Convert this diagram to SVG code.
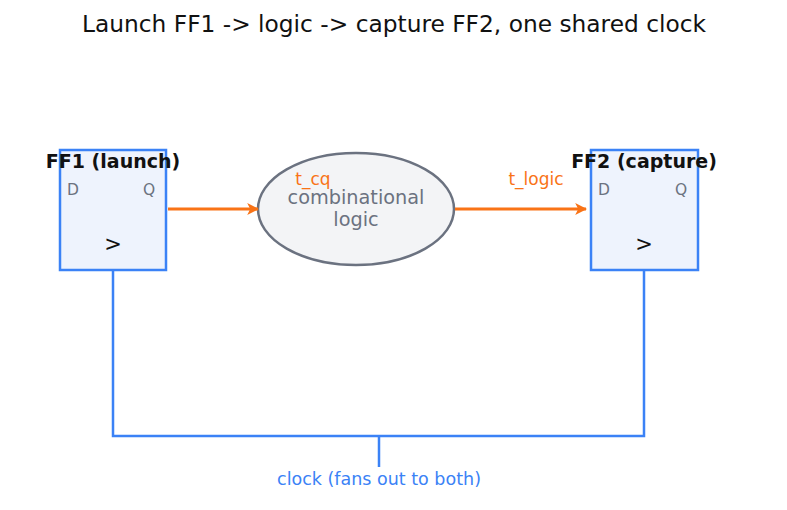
<svg xmlns="http://www.w3.org/2000/svg" width="787" height="510" viewBox="0 0 787 510">
<defs>
<style>
text{font-family:"DejaVu Sans","Liberation Sans",sans-serif}
.ff{fill:#eef3fd;stroke:#3b82f6;stroke-width:2.5}
.lbl{font-size:19px;font-weight:bold;fill:#111;text-anchor:middle}
.pin{font-size:15.5px;fill:#6b7280}
.clk{font-size:21px;fill:#111;text-anchor:middle}
.wire{fill:none;stroke:#3b82f6;stroke-width:2.5}
.data{fill:none;stroke:#f97316;stroke-width:3}
.otxt{font-size:17px;fill:#f97316;text-anchor:middle}
</style>
<marker id="ah" viewBox="0 0 10 10" refX="9" refY="5" markerWidth="4" markerHeight="4" orient="auto" markerUnits="strokeWidth">
<path d="M0,0 L10,5 L0,10 L2.5,5 z" fill="#f97316"/>
</marker>
</defs>
<rect width="787" height="510" fill="#fff"/>
<text x="394" y="32" font-size="23.3" fill="#111" text-anchor="middle">Launch FF1 -&gt; logic -&gt; capture FF2, one shared clock</text>
<g id="ff1">
<rect class="ff" x="60" y="150" width="106" height="120"/>
<text class="lbl" x="113" y="168">FF1 (launch)</text>
<text class="pin" x="67" y="195">D</text>
<text class="pin" x="143" y="195">Q</text>
<text class="clk" x="113" y="251">&gt;</text>
</g>
<g id="logic">
<ellipse cx="356" cy="209" rx="98" ry="56" fill="#f3f4f6" stroke="#6b7280" stroke-width="2.5"/>
<text x="356" y="204" font-size="19.3" fill="#6b7280" text-anchor="middle">combinational</text>
<text x="356" y="226" font-size="19.3" fill="#6b7280" text-anchor="middle">logic</text>
</g>
<g id="ff2">
<rect class="ff" x="591" y="150" width="107" height="120"/>
<text class="lbl" x="644" y="168">FF2 (capture)</text>
<text class="pin" x="598" y="195">D</text>
<text class="pin" x="675" y="195">Q</text>
<text class="clk" x="644" y="251">&gt;</text>
</g>
<g id="connectors">
<path class="wire" d="M113,270 V436 H644 V270"/>
<path class="wire" d="M379,436 V467"/>
<path class="data" d="M168,209 H258" marker-end="url(#ah)"/>
<path class="data" d="M455,209 H586" marker-end="url(#ah)"/>
<text class="otxt" x="313" y="185">t_cq</text>
<text class="otxt" x="536" y="185">t_logic</text>
<text x="379" y="485" font-size="17.5" fill="#3b82f6" text-anchor="middle">clock (fans out to both)</text>
</g>
</svg>
